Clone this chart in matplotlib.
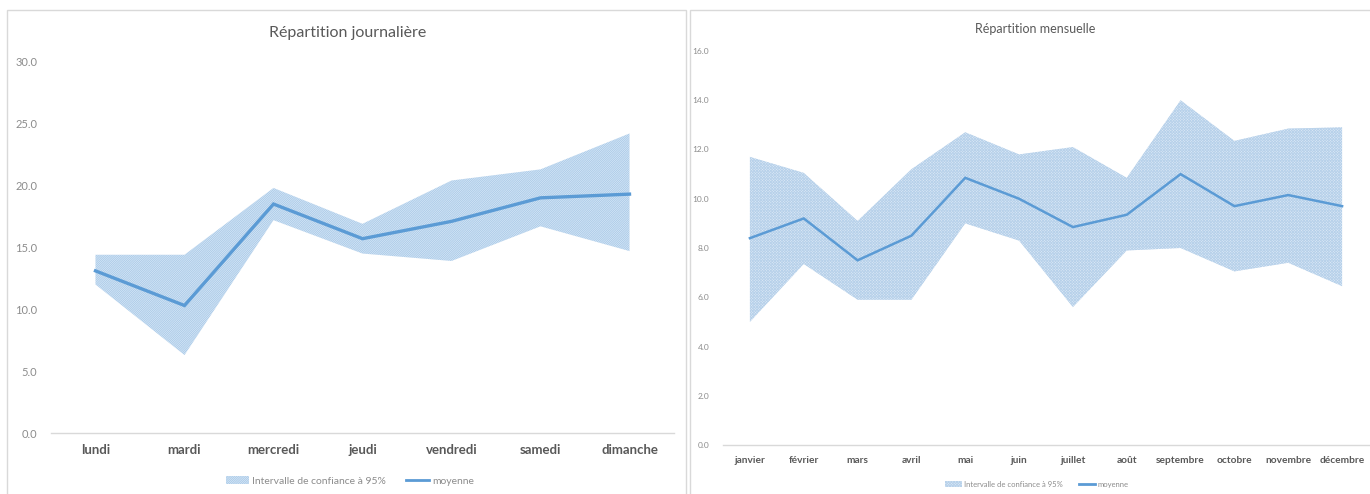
import matplotlib as mpl
import matplotlib.pyplot as plt
from matplotlib.patches import Patch, Rectangle
from matplotlib.lines import Line2D

# daily breakdown
days = ["lundi", "mardi", "mercredi", "jeudi", "vendredi", "samedi", "dimanche"]
day_mean = [13.1, 10.3, 18.5, 15.7, 17.1, 19.0, 19.3]
day_upper = [14.4, 14.4, 19.8, 16.9, 20.4, 21.3, 24.2]
day_lower = [12.0, 6.3, 17.2, 14.5, 13.9, 16.7, 14.7]

# monthly breakdown
months = ["janvier", "février", "mars", "avril", "mai", "juin", "juillet",
          "août", "septembre", "octobre", "novembre", "décembre"]
month_mean = [8.4, 9.2, 7.5, 8.5, 10.85, 10.0, 8.85, 9.35, 11.0, 9.7, 10.15, 9.7]
month_upper = [11.7, 11.05, 9.1, 11.2, 12.7, 11.8, 12.1, 10.85, 14.0, 12.35, 12.85, 12.9]
month_lower = [5.0, 7.35, 5.9, 5.9, 9.0, 8.3, 5.6, 7.9, 8.0, 7.05, 7.4, 6.45]

W, H = 1370, 494
LINE = "#5b9bd5"
GRID = "#d9d9d9"
TICK = "#8c8c8c"
LABEL = "#595959"

mpl.rcParams.update({
    "font.family": ["Lato", "DejaVu Sans"],
    "hatch.linewidth": 0.6,
})

fig = plt.figure(figsize=(W / 100, H / 100), dpi=100)


def px_axes(x0, y0, x1, y1):
    return fig.add_axes([x0 / W, 1 - y1 / H, (x1 - x0) / W, (y1 - y0) / H])


# panel frames
for x0, x1 in [(7, 686), (690, 1380)]:
    fig.patches.append(Rectangle((x0 / W, -0.02), (x1 - x0) / W, 1 - 10 / H + 0.02,
                                 transform=fig.transFigure, fill=False,
                                 edgecolor=GRID, linewidth=1.0))


def draw(ax, cats, mean, upper, lower, ymax, step, band_kw, lw, tick_fs, cat_fs):
    x = list(range(len(cats)))
    ax.fill_between(x, lower, upper, linewidth=0, **band_kw)
    ax.plot(x, mean, color=LINE, linewidth=lw, solid_joinstyle="miter")
    ax.set_xlim(-0.5, len(cats) - 0.5)
    ax.set_ylim(0, ymax)
    ax.set_xticks(x, cats)
    ticks = [i * step for i in range(int(round(ymax / step)) + 1)]
    ax.set_yticks(ticks, [f"{t:.1f}" for t in ticks])
    ax.tick_params(length=0)
    ax.tick_params(axis="y", labelsize=tick_fs, labelcolor=TICK, pad=10)
    ax.tick_params(axis="x", labelsize=cat_fs, labelcolor=LABEL, pad=8)
    for lab in ax.get_xticklabels():
        lab.set_fontweight("bold")
    for side in ["top", "right", "left"]:
        ax.spines[side].set_visible(False)
    ax.spines["bottom"].set_color(GRID)
    ax.spines["bottom"].set_linewidth(1.0)
    ax.patch.set_alpha(0)


left_band = dict(facecolor="#f0f6fc", edgecolor="#a3c6e7", hatch="/" * 18)
right_band = dict(facecolor="#dde9f6", edgecolor="#b7d1ea", hatch="x" * 12)

ax1 = px_axes(51, 61.7, 674, 433)
draw(ax1, days, day_mean, day_upper, day_lower, 30, 5, left_band, 2.4, 8, 9.5)
fig.text(348 / W, 1 - 33 / H, "Répartition journalière", ha="center", va="center",
         fontsize=11.5, color=LABEL)

ax2 = px_axes(723, 51, 1369, 445)
draw(ax2, months, month_mean, month_upper, month_lower, 16, 2, right_band, 1.8, 6, 7.3)
fig.text(1035 / W, 1 - 29 / H, "Répartition mensuelle", ha="center", va="center",
         fontsize=9, color=LABEL)

for cx, cy, fs, band in [(350, 481, 7.5, left_band), (1037, 484, 5.5, right_band)]:
    handles = [Patch(linewidth=0, **band), Line2D([], [], color=LINE, linewidth=2)]
    fig.legend(handles, ["Intervalle de confiance à 95%", "moyenne"],
               loc="center", bbox_to_anchor=(cx / W, 1 - cy / H), ncol=2,
               frameon=False, fontsize=fs, labelcolor=TICK, handlelength=2.2,
               handleheight=0.8, handletextpad=0.3, columnspacing=2.0)

fig.savefig("out.png", dpi=100)
